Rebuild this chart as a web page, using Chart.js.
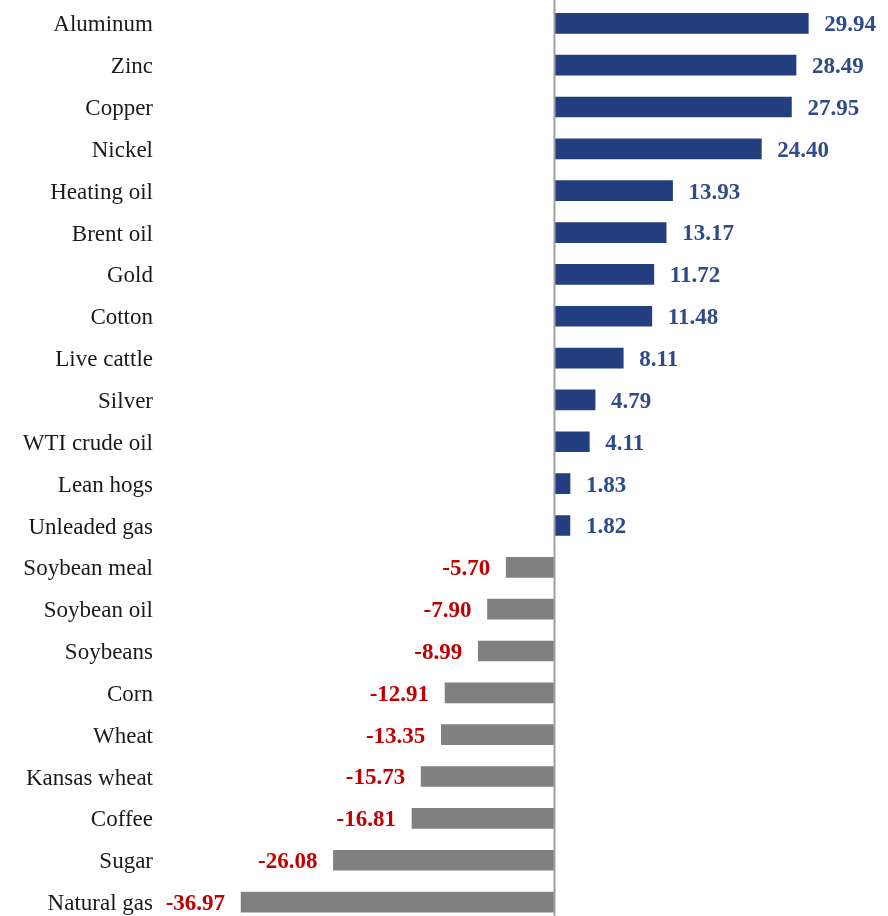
<!DOCTYPE html>
<html>
<head>
<meta charset="utf-8">
<script src="https://cdn.jsdelivr.net/npm/chart.js@4/dist/chart.umd.min.js"></script>
<style>
  html, body { margin: 0; padding: 0; background: #fff; }
  #wrap { width: 888px; height: 916px; overflow: hidden; }
</style>
</head>
<body>
<div id="wrap"><canvas id="chart" width="888" height="923"></canvas></div>
<script>
const commodities = ['Aluminum', 'Zinc', 'Copper', 'Nickel', 'Heating oil', 'Brent oil', 'Gold',
  'Cotton', 'Live cattle', 'Silver', 'WTI crude oil', 'Lean hogs', 'Unleaded gas',
  'Soybean meal', 'Soybean oil', 'Soybeans', 'Corn', 'Wheat', 'Kansas wheat', 'Coffee',
  'Sugar', 'Natural gas'];
const returns = [29.94, 28.49, 27.95, 24.40, 13.93, 13.17, 11.72, 11.48, 8.11, 4.79, 4.11,
  1.83, 1.82, -5.70, -7.90, -8.99, -12.91, -13.35, -15.73, -16.81, -26.08, -36.97];

const FONT = '"Liberation Serif", "DejaVu Serif", serif';

// category names + value labels
const barLabels = {
  id: 'barLabels',
  afterDatasetsDraw(chart) {
    const ctx = chart.ctx;
    const meta = chart.getDatasetMeta(0);
    ctx.save();
    ctx.textBaseline = 'middle';
    meta.data.forEach((bar, i) => {
      // category on the left
      ctx.font = '23px ' + FONT;
      ctx.fillStyle = '#1a1a1a';
      ctx.textAlign = 'right';
      ctx.fillText(commodities[i], 153, bar.y + 2);

      const v = returns[i];
      ctx.font = 'bold 23px ' + FONT;
      if (v >= 0) {
        ctx.fillStyle = '#2E4A8B';
        ctx.textAlign = 'left';
        ctx.fillText(v.toFixed(2), bar.x + 16, bar.y + 2);
      } else {
        ctx.fillStyle = '#C00000';
        ctx.textAlign = 'right';
        ctx.fillText(v.toFixed(2), bar.x - 16, bar.y + 2);
      }
    });
    ctx.restore();
  }
};

// zero line running the full height
const zeroLine = {
  id: 'zeroLine',
  afterDatasetsDraw(chart) {
    const ctx = chart.ctx;
    const x = chart.scales.x.getPixelForValue(0);
    ctx.save();
    ctx.strokeStyle = '#A0A0A0';
    ctx.lineWidth = 2;
    ctx.beginPath();
    ctx.moveTo(x, 0);
    ctx.lineTo(x, chart.height);
    ctx.stroke();
    ctx.restore();
  }
};

new Chart(document.getElementById('chart').getContext('2d'), {
  type: 'bar',
  data: {
    labels: commodities,
    datasets: [{
      data: returns,
      backgroundColor: returns.map(v => v >= 0 ? '#243F7F' : '#808080'),
      borderWidth: 0,
      barThickness: 20
    }]
  },
  options: {
    indexAxis: 'y',
    responsive: false,
    animation: false,
    layout: { padding: { top: 2.4, right: 36.8, bottom: 0, left: 0 } },
    plugins: { legend: { display: false }, tooltip: { enabled: false } },
    scales: {
      x: { display: false, min: -40, max: 35 },
      y: {
        grid: { display: false, drawTicks: false },
        border: { display: false },
        ticks: { display: false },
        afterFit(scale) { scale.width = 215.4; }
      }
    }
  },
  plugins: [zeroLine, barLabels]
});
</script>
</body>
</html>
